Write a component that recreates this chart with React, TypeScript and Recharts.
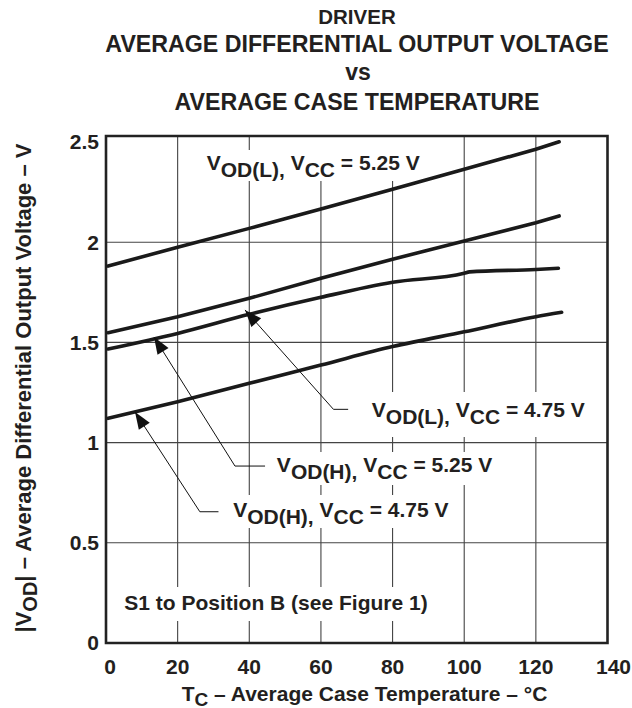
import React from 'react';
import {
  LineChart,
  Line,
  XAxis,
  YAxis,
  CartesianGrid,
  ReferenceArea,
  ReferenceLine,
  ReferenceDot,
} from 'recharts';

const FONT = '"Liberation Sans", Arial, Helvetica, sans-serif';
const INK = '#231f20';

// axes
const xTicks = [0, 20, 40, 60, 80, 100, 120, 140];
const yTicks = [0, 0.5, 1, 1.5, 2, 2.5];
const xGrid = [20, 40, 60, 80, 100, 120];
const yGrid = [0.5, 1, 1.5, 2];

// series (Tc in °C, |VOD| in V)
const tempL525 = [0.6, 20, 40, 60, 80, 100, 120, 126.5];
const vodL525 = [1.881, 1.975, 2.069, 2.166, 2.264, 2.364, 2.464, 2.501];
const tempH525 = [0.6, 20, 40, 60, 80, 100, 120, 126.5];
const vodH525 = [1.548, 1.628, 1.72, 1.82, 1.915, 2.006, 2.097, 2.131];
const tempL475 = [0.6, 20, 40, 60, 80, 100, 101.5, 120, 126.3];
const vodL475 = [1.467, 1.545, 1.64, 1.725, 1.8, 1.845, 1.852, 1.864, 1.87];
const tempH475 = [0.6, 20, 40, 60, 80, 100, 120, 127.2];
const vodH475 = [1.121, 1.204, 1.296, 1.387, 1.479, 1.553, 1.628, 1.65];

const zip = (xs: number[], ys: number[]) => xs.map((x, i) => ({ x, y: ys[i] }));

// annotation texts: [text, subscript level]
type Part = [string, number];
const textL525: Part[] = [['V', 0], ['OD(L),', 1], [' V', 0], ['CC', 1], [' = 5.25 V', 0]];
const textL475: Part[] = [['V', 0], ['OD(L),', 1], [' V', 0], ['CC', 1], [' = 4.75 V', 0]];
const textH525: Part[] = [['V', 0], ['OD(H),', 1], [' V', 0], ['CC', 1], [' = 5.25 V', 0]];
const textH475: Part[] = [['V', 0], ['OD(H),', 1], [' V', 0], ['CC', 1], [' = 4.75 V', 0]];
const textS1: Part[] = [['S1 to Position B (see Figure 1)', 0]];

// annotation anchors in data coordinates [Tc, V]
const anchorL525 = [28.1, 2.36];
const anchorL475 = [74.2, 1.129];
const anchorH525 = [47.7, 0.855];
const anchorH475 = [35.5, 0.627];
const anchorS1 = [5.1, 0.165];

// white label backgrounds [x1, x2, y1, y2]
const boxL525a = [27.1, 89.1, 2.305, 2.46];
const boxL525b = [52.8, 89.1, 2.46, 2.53];
const boxL475 = [72.6, 135.1, 1.028, 1.252];
const boxH525 = [45.8, 109.4, 0.788, 0.953];
const boxH475 = [34.1, 97.7, 0.574, 0.739];
const boxS1 = [0.6, 94.6, 0.11, 0.279];

// leader polylines (data coordinates)
const leaderL475 = [[67.6, 1.166], [63.5, 1.166], [38.8, 1.662]];
const leaderH525 = [[44.4, 0.883], [36.0, 0.883], [13.4, 1.527]];
const leaderH475 = [[31.4, 0.655], [26.2, 0.655], [8.1, 1.153]];
// arrow tip angles (screen direction from tip back to tail, degrees)
const tipAngles = [48.4, 57.9, 56.9];

const richText = (parts: Part[], x: number, y: number, size: number, shift: number) => {
  let level = 0;
  return (
    <text
      x={x}
      y={y}
      fontFamily={FONT}
      fontWeight={700}
      fontSize={size}
      fill={INK}
      style={{ whiteSpace: 'pre' }}
    >
      {parts.map(([t, l], i) => {
        const dy = (l - level) * shift;
        level = l;
        return (
          <tspan key={i} dy={dy}>
            {t}
          </tspan>
        );
      })}
    </text>
  );
};

const labelShape = (parts: Part[]) => (props: any) => richText(parts, props.cx, props.cy, 21, 7);

const arrowShape = (angle: number) => (props: any) => {
  const { cx, cy } = props;
  const a = (angle * Math.PI) / 180;
  const L = 17;
  const W = 6.5;
  const bx = cx + L * Math.cos(a);
  const by = cy + L * Math.sin(a);
  const px = -Math.sin(a) * W;
  const py = Math.cos(a) * W;
  return (
    <polygon
      points={`${cx},${cy} ${bx + px},${by + py} ${bx - px},${by - py}`}
      fill="#111"
      stroke="none"
    />
  );
};

const XTick = (props: any) => {
  const { x, y, payload } = props;
  const v = payload.value;
  const off = v === 0 ? 4 : v === 140 ? 6 : 0;
  return (
    <text
      x={x + off}
      y={y}
      dy="0.71em"
      textAnchor="middle"
      fontFamily={FONT}
      fontWeight={700}
      fontSize={21}
      fill={INK}
    >
      {v}
    </text>
  );
};

const boxes = [boxL525a, boxL525b, boxL475, boxH525, boxH475, boxS1];
const leaders = [leaderL475, leaderH525, leaderH475];
const labels: [number[], Part[]][] = [
  [anchorL525, textL525],
  [anchorL475, textL475],
  [anchorH525, textH525],
  [anchorH475, textH475],
  [anchorS1, textS1],
];

export default function App() {
  return (
    <div style={{ position: 'absolute', left: 0, top: 0, width: 632, height: 708, background: '#fff' }}>
      <div style={{ position: 'absolute', left: 0, top: 0 }}>
        <LineChart width={632} height={708} margin={{ top: 136, right: 24.5, bottom: 0, left: 0 }}>
          <CartesianGrid
            stroke="#444"
            strokeWidth={1.1}
            horizontalValues={yGrid}
            verticalValues={xGrid}
          />
          <XAxis
            type="number"
            dataKey="x"
            domain={[0, 140]}
            ticks={xTicks}
            interval={0}
            height={65}
            axisLine={false}
            tickLine={false}
            tickSize={0}
            tickMargin={16}
            tick={<XTick />}
            allowDataOverflow
          />
          <YAxis
            type="number"
            dataKey="y"
            domain={[0, 2.53]}
            ticks={yTicks}
            interval={0}
            width={106}
            axisLine={false}
            tickLine={false}
            tickSize={0}
            tickMargin={7}
            tick={{ fontSize: 21, fontWeight: 700, fill: INK, fontFamily: FONT }}
            allowDataOverflow
          />
          {boxes.map((b, i) => (
            <ReferenceArea
              key={'b' + i}
              x1={b[0]}
              x2={b[1]}
              y1={b[2]}
              y2={b[3]}
              fill="#fff"
              fillOpacity={1}
              stroke="none"
              ifOverflow="visible"
            />
          ))}
          <Line data={zip(tempL525, vodL525)} dataKey="y" type="linear" stroke="#1a1a1a" strokeWidth={3.6} dot={false} isAnimationActive={false} strokeLinecap="round" />
          <Line data={zip(tempH525, vodH525)} dataKey="y" type="linear" stroke="#1a1a1a" strokeWidth={3.6} dot={false} isAnimationActive={false} strokeLinecap="round" />
          <Line data={zip(tempL475, vodL475)} dataKey="y" type="monotone" stroke="#1a1a1a" strokeWidth={3.6} dot={false} isAnimationActive={false} strokeLinecap="round" />
          <Line data={zip(tempH475, vodH475)} dataKey="y" type="monotone" stroke="#1a1a1a" strokeWidth={3.6} dot={false} isAnimationActive={false} strokeLinecap="round" />
          <ReferenceArea
            x1={0}
            x2={140}
            y1={0}
            y2={2.53}
            fill="none"
            stroke="#222"
            strokeWidth={2.6}
            ifOverflow="visible"
          />
          {leaders.map((pts, i) =>
            pts.slice(1).map((p, j) => (
              <ReferenceLine
                key={'l' + i + '-' + j}
                segment={[
                  { x: pts[j][0], y: pts[j][1] },
                  { x: p[0], y: p[1] },
                ]}
                stroke="#111"
                strokeWidth={1}
                ifOverflow="visible"
              />
            ))
          )}
          {leaders.map((pts, i) => (
            <ReferenceDot
              key={'a' + i}
              x={pts[2][0]}
              y={pts[2][1]}
              r={1}
              shape={arrowShape(tipAngles[i])}
              ifOverflow="visible"
            />
          ))}
          {labels.map(([a, parts], i) => (
            <ReferenceDot
              key={'t' + i}
              x={a[0]}
              y={a[1]}
              r={1}
              shape={labelShape(parts)}
              ifOverflow="visible"
            />
          ))}
        </LineChart>
      </div>
      <svg
        width={632}
        height={708}
        style={{ position: 'absolute', left: 0, top: 0, pointerEvents: 'none' }}
      >
        <g fontFamily={FONT} fontWeight={700} fill={INK} textAnchor="middle">
          <text x={357} y={24.3} fontSize={20.5}>DRIVER</text>
          <text x={357} y={51.7} fontSize={23.2}>AVERAGE DIFFERENTIAL OUTPUT VOLTAGE</text>
          <text x={358} y={80} fontSize={23}>vs</text>
          <text x={357} y={110} fontSize={23.2}>AVERAGE CASE TEMPERATURE</text>
          <text x={364.5} y={700.5} fontSize={21} style={{ whiteSpace: 'pre' }}>
            T<tspan dy={5} fontSize={19}>C</tspan>
            <tspan dy={-5}> – Average Case Temperature – °C</tspan>
          </text>
          <text transform="translate(31,388) rotate(-90)" x={0} y={0} fontSize={22} style={{ whiteSpace: 'pre' }}>
            |V<tspan dy={6} fontSize={20}>OD</tspan>
            <tspan dy={-6}>| – Average Differential Output Voltage – V</tspan>
          </text>
        </g>
      </svg>
    </div>
  );
}
